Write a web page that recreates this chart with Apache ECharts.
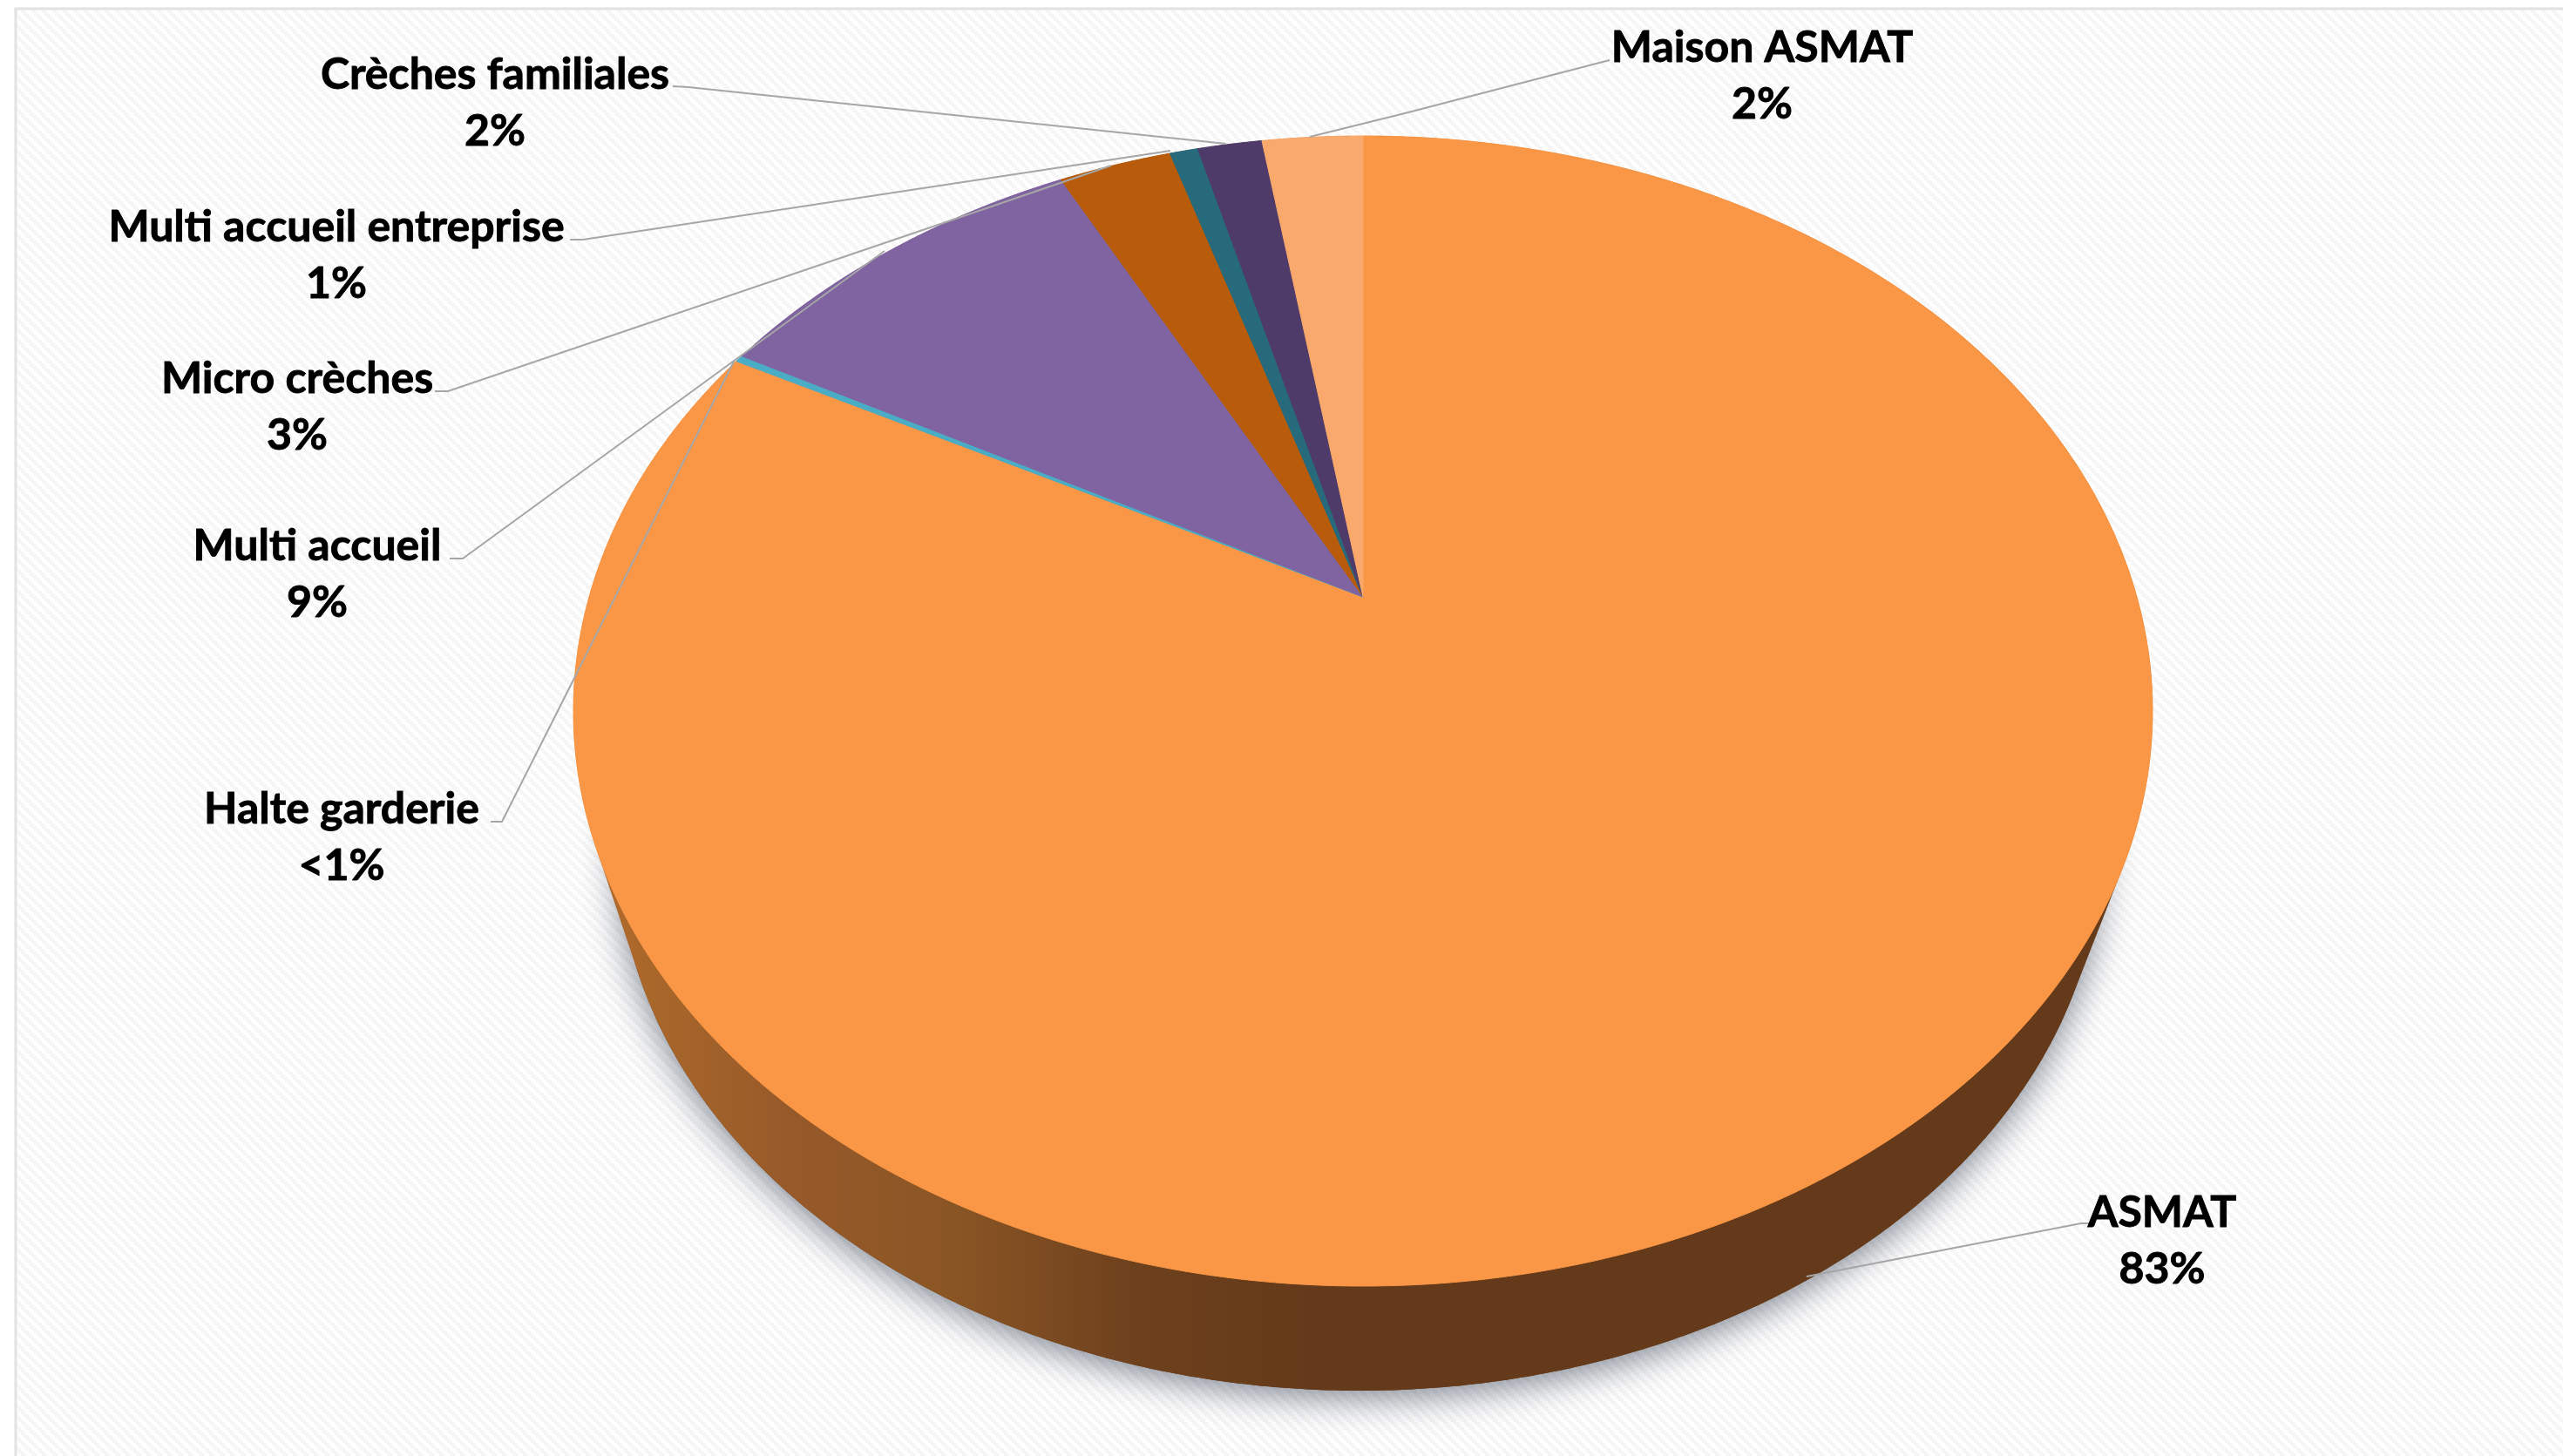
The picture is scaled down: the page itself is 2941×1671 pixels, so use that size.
<!DOCTYPE html>
<html>
<head>
<meta charset="utf-8">
<style>html,body{margin:0;padding:0;background:#fff}#c{width:2941px;height:1671px}</style>
<script src="https://cdn.jsdelivr.net/npm/echarts@6/dist/echarts.min.js"></script>
</head>
<body>
<div id="c"></div>
<script>
// Data, clockwise from twelve o'clock
const categories = ['ASMAT','Halte garderie','Multi accueil','Micro crèches','Multi accueil entreprise','Crèches familiales','Maison ASMAT'];
const shares = [82.8, 0.2, 9.5, 2.8, 0.7, 1.6, 2.5];
const shareLabels = ['83%','<1%','9%','3%','1%','2%','2%'];

// Styling
const sliceColors = ['#F99746','#4BACC6','#8064A2','#B85C0B','#276A7C','#4F3B69','#FAA96C'];

// Layout: the tilted disc and where each label sits (pixels)
const disc = {cx:1564, cy:816, a:906, b:660, apexY:685};
const base = {cx:1560, cy:968, a:852, b:628};
const labelCentres = [[2481,1392],[392,929],[364,627],[341,435],[386,261],[568,86],[2022,55]];
const lineGap = 65;
const leaders = [
  [[2398,1404],[2388,1404],[2073,1465]],
  [[563,943],[576,943],[843,413]],
  [[516,641],[531,641],[1015,288]],
  [[499,449],[514,449],[1050,267],[1275,190]],
  [[654,275],[669,275],[1343,173]],
  [[772,99],[790,100],[1407,165]],
  [[1847,69],[1612,130],[1503,157]]
];

const total = shares.reduce((s,v)=>s+v,0);
const cumulative = []; shares.reduce((s,v,i)=>{cumulative[i]=s;return s+v;},0);
const k = (disc.cy-disc.apexY)/disc.b;
const A = disc.a*Math.sqrt(1-k*k), B = disc.b, C = disc.cy-disc.apexY;
function rim(t){
  const th = 2*Math.PI*t, u = Math.sin(th), v = Math.cos(th), d = 1+k*v;
  return [disc.cx + A*u/d, disc.cy - (B*v+C)/d];
}
function ellipsePoints(e){
  const pts=[];
  for(let i=0;i<720;i++){
    const th=i/720*2*Math.PI;
    pts.push([e.cx+e.a*Math.cos(th),e.cy+e.b*Math.sin(th)]);
  }
  return pts;
}
// Side wall of the disc: convex hull of the top ellipse and the base ellipse
function wallOutline(){
  const pts=ellipsePoints(disc).concat(ellipsePoints(base));
  pts.sort((p,q)=>p[0]-q[0]||p[1]-q[1]);
  const cross=(o,a,b)=>(a[0]-o[0])*(b[1]-o[1])-(a[1]-o[1])*(b[0]-o[0]);
  const lower=[],upper=[];
  for(const p of pts){
    while(lower.length>1&&cross(lower[lower.length-2],lower[lower.length-1],p)<=0)lower.pop();
    lower.push(p);
  }
  for(let i=pts.length-1;i>=0;i--){
    const p=pts[i];
    while(upper.length>1&&cross(upper[upper.length-2],upper[upper.length-1],p)<=0)upper.pop();
    upper.push(p);
  }
  lower.pop();upper.pop();
  return lower.concat(upper);
}

const tile = document.createElement('canvas');
tile.width = 12; tile.height = 12;
(function(){
  const g = tile.getContext('2d');
  g.fillStyle = '#ffffff'; g.fillRect(0,0,12,12);
  g.fillStyle = '#f6f6f6';
  for(let i=0;i<4;i++)for(let j=0;j<4;j++){
    if(((i-j)%4+4)%4<2) g.fillRect(i*3,j*3,3,3);
  }
})();

const chart = echarts.init(document.getElementById('c'), null, {renderer:'canvas'});
chart.setOption({
  animation:false,
  backgroundColor:'#ffffff',
  graphic:[{type:'rect',silent:true,z:0,shape:{x:18,y:10,width:2941,height:1671},
            style:{fill:{image:tile,repeat:'repeat'},stroke:'#e2e2e2',lineWidth:3}}],
  series:[
    {type:'custom',coordinateSystem:'none',silent:true,z:2,data:[total],
     renderItem(){
       return {type:'group',children:[
         {type:'polygon',shape:{points:ellipsePoints(base)},style:{
           fill:'#643a1a',shadowColor:'rgba(40,50,70,0.6)',shadowBlur:40,shadowOffsetX:0,shadowOffsetY:8}},
         {type:'polygon',shape:{points:wallOutline()},style:{
           fill:{type:'linear',x:0,y:0,x2:1,y2:0,colorStops:[
             {offset:0,color:'#b56d2c'},{offset:.054,color:'#a8662a'},{offset:.14,color:'#97592a'},
             {offset:.24,color:'#8a5524'},{offset:.313,color:'#784820'},{offset:.354,color:'#6e411d'},
             {offset:.465,color:'#643a1a'},{offset:1,color:'#643a1a'}]}}}
       ]};
     }},
    {type:'custom',coordinateSystem:'none',silent:true,z:3,data:shares,
     renderItem(params,api){
       const i = params.dataIndex, v = api.value(0);
       const t0 = cumulative[i]/total, t1 = t0+v/total;
       const pts = [[disc.cx,disc.apexY]];
       const n = Math.max(2,Math.ceil((t1-t0)*720));
       for(let j=0;j<=n;j++) pts.push(rim(t0+(t1-t0)*j/n));
       return {type:'polygon',shape:{points:pts},style:{fill:sliceColors[i],stroke:sliceColors[i],lineWidth:1}};
     }},
    {type:'custom',coordinateSystem:'none',silent:true,z:4,data:categories,
     renderItem(params){
       const i = params.dataIndex, c = labelCentres[i];
       const font = 'bold 50px Lato';
       const textStyle = {align:'center',verticalAlign:'middle',font,fill:'#000',stroke:'#000',lineWidth:0.9};
       return {type:'group',children:[
         {type:'polyline',shape:{points:leaders[i]},style:{fill:null,stroke:'#a6a6a6',lineWidth:2}},
         {type:'text',style:Object.assign({text:categories[i],x:c[0],y:c[1]},textStyle)},
         {type:'text',style:Object.assign({text:shareLabels[i],x:c[0],y:c[1]+lineGap},textStyle)}
       ]};
     }}
  ]
});
</script>
</body>
</html>
